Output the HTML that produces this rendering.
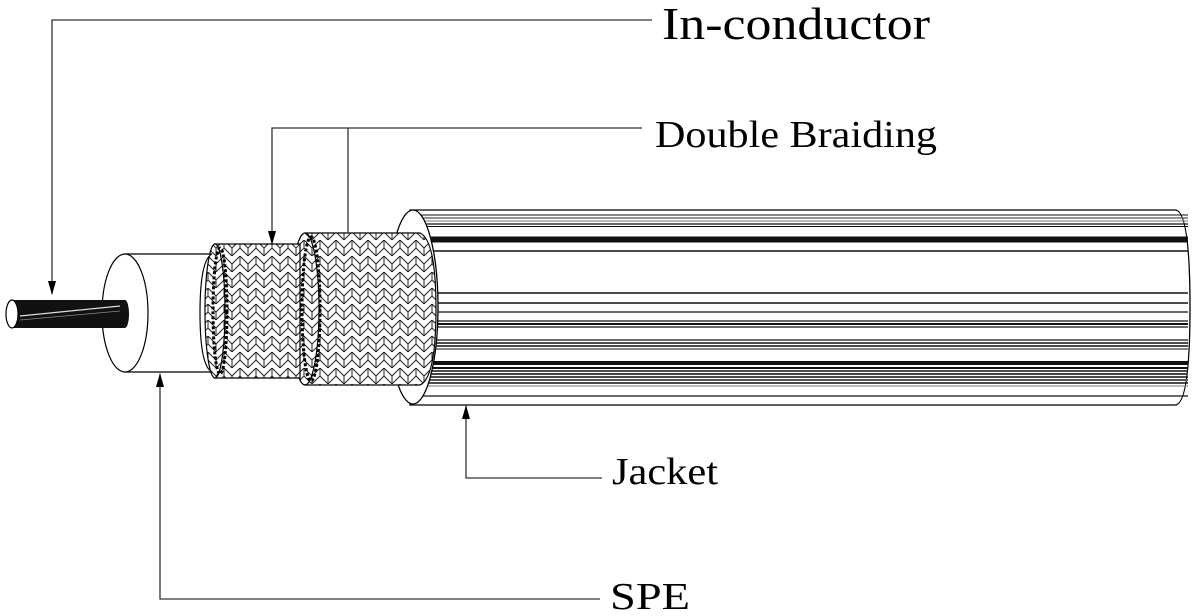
<!DOCTYPE html>
<html><head><meta charset="utf-8"><style>
html,body{margin:0;padding:0;background:#fff;width:1194px;height:616px;overflow:hidden}
svg{display:block}
text{font-family:"Liberation Serif",serif;fill:#000}
</style></head><body>
<svg width="1194" height="616" viewBox="0 0 1194 616" xmlns="http://www.w3.org/2000/svg">
<defs>
<pattern id="hb" width="16" height="16" patternUnits="userSpaceOnUse">
<rect width="16" height="16" fill="#fff"/>
<path d="M0 0 L8 8 L16 0 M0 8 L8 16 L16 8 M8 8 L8 16 M0 0 L0 8 M16 0 L16 8" stroke="#222" stroke-width="1" fill="none"/>
</pattern>
<marker id="ar" markerWidth="14" markerHeight="8" refX="13" refY="4" orient="auto" markerUnits="userSpaceOnUse">
<path d="M0 0 L14 4 L0 8 Z" fill="#000"/>
</marker>
</defs>

<path d="M410 210 L1175 210 Q1190 210 1190 307 Q1190 405 1175 405 L410 405 Z" fill="#fff" stroke="#000" stroke-width="1.3"/>
<g stroke="#111">
<line x1="420" y1="215" x2="1188" y2="215" stroke-width="1"/>
<line x1="420" y1="218" x2="1188" y2="218" stroke-width="1.2" stroke="#555"/>
<line x1="420" y1="221" x2="1188" y2="221" stroke-width="1" stroke="#777"/>
<line x1="420" y1="224" x2="1188" y2="224" stroke-width="1.3"/>
<line x1="420" y1="226.5" x2="1188" y2="226.5" stroke-width="1"/>
<line x1="420" y1="239.5" x2="1188" y2="239.5" stroke-width="6"/>
<line x1="430" y1="251" x2="1188" y2="251" stroke-width="1.5"/>
<line x1="430" y1="293" x2="1188" y2="293" stroke-width="1.5"/>
<line x1="430" y1="303" x2="1188" y2="303" stroke-width="1.5"/>
<line x1="430" y1="312" x2="1188" y2="312" stroke-width="1.2"/>
<line x1="430" y1="321" x2="1188" y2="321" stroke-width="1.2"/>
<line x1="430" y1="324" x2="1188" y2="324" stroke-width="2"/>
<line x1="430" y1="327" x2="1188" y2="327" stroke-width="1.2"/>
<line x1="430" y1="340" x2="1188" y2="340" stroke-width="1.2"/>
<line x1="430" y1="343" x2="1188" y2="343" stroke-width="1.5"/>
<line x1="430" y1="346" x2="1188" y2="346" stroke-width="1.5"/>
<line x1="430" y1="349" x2="1188" y2="349" stroke-width="1"/>
<line x1="425" y1="363" x2="1188" y2="363" stroke-width="4"/>
<line x1="425" y1="368" x2="1188" y2="368" stroke-width="2"/>
<line x1="425" y1="371" x2="1188" y2="371" stroke-width="1.5"/>
<line x1="425" y1="374" x2="1188" y2="374" stroke-width="2" stroke="#444"/>
<line x1="425" y1="377" x2="1188" y2="377" stroke-width="1.5"/>
<line x1="420" y1="380" x2="1188" y2="380" stroke-width="2" stroke="#555"/>
<line x1="420" y1="383" x2="1188" y2="383" stroke-width="1.5"/>
<line x1="420" y1="386" x2="1188" y2="386" stroke-width="1" stroke="#777"/>
<line x1="420" y1="396" x2="1188" y2="396" stroke-width="1.2"/>
</g>
<ellipse cx="413" cy="307" rx="25" ry="97" fill="#fff" stroke="#000" stroke-width="1.3"/>

<path d="M305 233 L420 233 Q436 240 436 309 Q436 378 420 385 L305 385 Z" fill="url(#hb)" stroke="#000" stroke-width="1.2"/>
<ellipse cx="305" cy="309" rx="14" ry="76" fill="url(#hb)" stroke="#000" stroke-width="1.2"/>
<ellipse cx="311" cy="309" rx="9" ry="72" fill="none" stroke="#000" stroke-width="3" stroke-dasharray="3 2"/>

<path d="M215 244 L300 244 L300 378 L215 378 Z" fill="url(#hb)" stroke="#000" stroke-width="1.2"/>
<ellipse cx="215" cy="311" rx="10" ry="67" fill="url(#hb)" stroke="#000" stroke-width="1.2"/>
<ellipse cx="220" cy="311" rx="7" ry="63" fill="none" stroke="#000" stroke-width="3" stroke-dasharray="3 2"/>

<path d="M125 254 L212 254 Q200 260 200 313 Q200 366 212 372 L125 372 Z" fill="#fff" stroke="#000" stroke-width="1.2"/>
<ellipse cx="125" cy="313" rx="23" ry="59" fill="#fff" stroke="#000" stroke-width="1.2"/>

<rect x="10" y="300" width="115" height="28" fill="#111"/>
<ellipse cx="125" cy="314" rx="4" ry="14" fill="#111"/>
<path d="M20 316 L120 306" stroke="#ddd" stroke-width="1.2"/>
<path d="M20 320 L120 311" stroke="#888" stroke-width="0.8"/>
<ellipse cx="12" cy="314" rx="6" ry="14" fill="#fff" stroke="#000" stroke-width="1.2"/>

<g stroke="#333" stroke-width="1.3" fill="none">
<polyline points="652,20 52,20 52,294" marker-end="url(#ar)"/>
<polyline points="642,128 272,128 272,244" marker-end="url(#ar)"/>
<line x1="348" y1="128" x2="348" y2="233"/>
<polyline points="602,478 466,478 466,406" marker-end="url(#ar)"/>
<polyline points="600,599 160,599 160,374" marker-end="url(#ar)"/>
</g>

<text x="662" y="39" font-size="46" textLength="268" lengthAdjust="spacingAndGlyphs">In-conductor</text>
<text x="655" y="147" font-size="38" textLength="282" lengthAdjust="spacingAndGlyphs">Double Braiding</text>
<text x="612" y="484" font-size="38" textLength="106" lengthAdjust="spacingAndGlyphs">Jacket</text>
<text x="610" y="609" font-size="38" textLength="80" lengthAdjust="spacingAndGlyphs">SPE</text>
</svg>
</body></html>
